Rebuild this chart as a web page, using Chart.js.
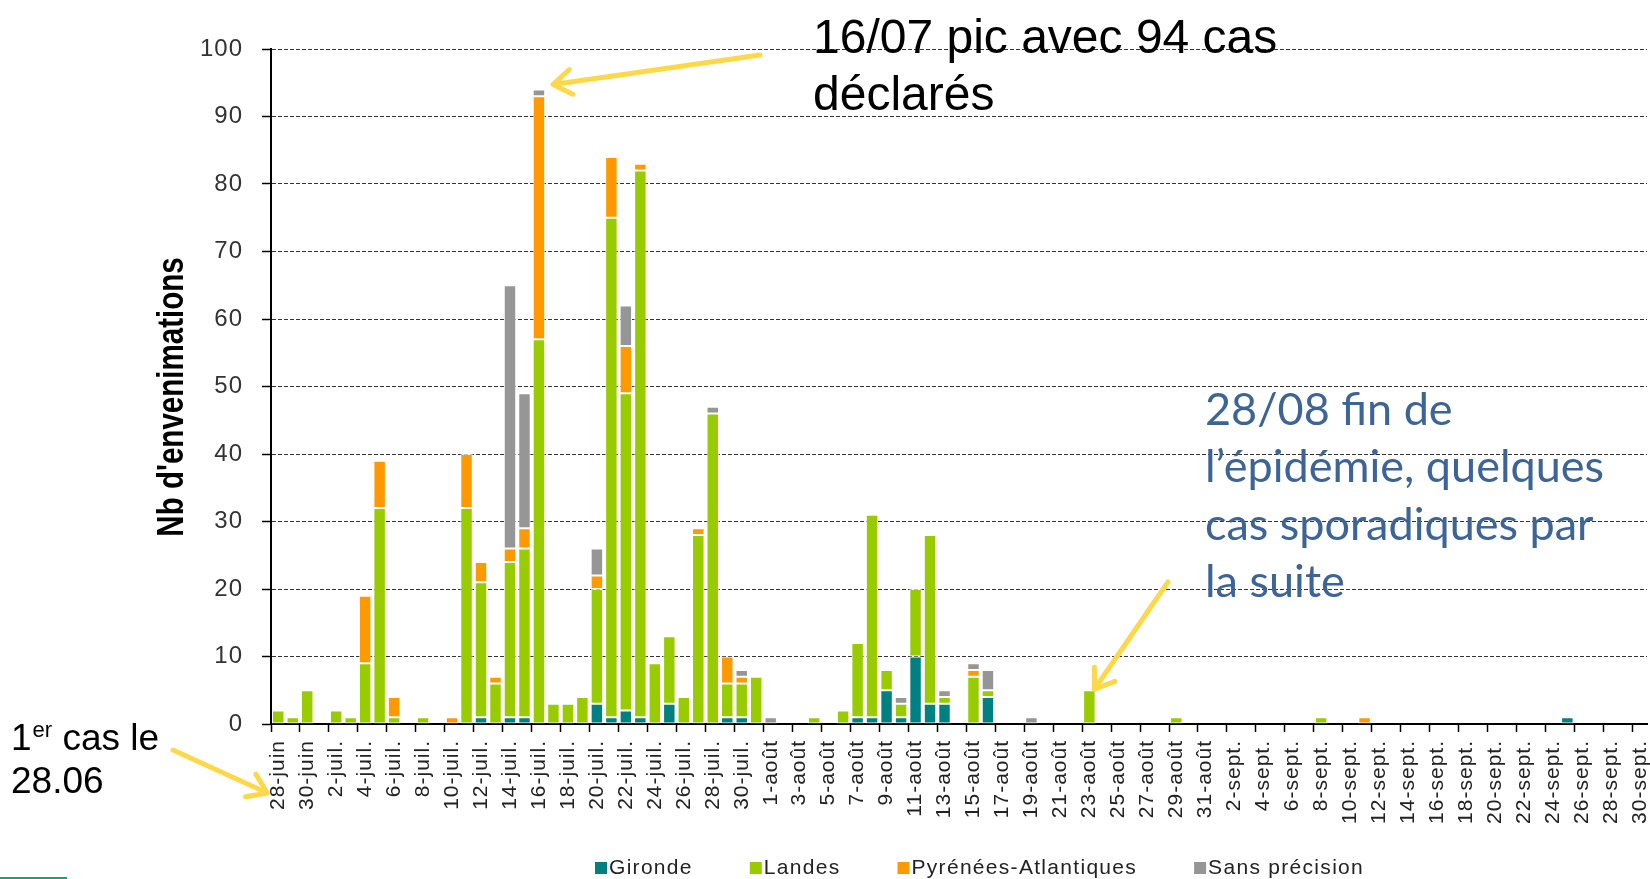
<!DOCTYPE html>
<html lang="fr">
<head>
<meta charset="utf-8">
<title>Envenimations</title>
<script src="https://cdn.jsdelivr.net/npm/chart.js@4.4.1/dist/chart.umd.min.js"></script>
<style>
    html, body { margin: 0; padding: 0; background: #fff; }
    canvas { display: block; }
</style>
</head>
<body>
<canvas id="myChart" width="1650" height="879"></canvas>
<script>
// Jours affichés : du 28 juin au 30 septembre
const mois = [
    { nom: 'juin', debut: 28, fin: 30 },
    { nom: 'juil.', debut: 1, fin: 31 },
    { nom: 'août', debut: 1, fin: 31 },
    { nom: 'sept.', debut: 1, fin: 30 }
];
let jours = [];
for (const m of mois) {
    for (let d = m.debut; d <= m.fin; d++) {
        jours.push(d + '-' + m.nom);
    }
}

// Nombre d'envenimations par jour et par département
const gironde = [
    0, 0, 0,
    0, 0, 0, 0, 0, 0, 0, 0, 0, 0,  0, 1, 0, 1, 1, 0, 0, 0, 0, 3,  1, 2, 1, 0, 3, 0, 0, 0, 1, 1,  0,
    0, 0, 0, 0, 0, 0, 1, 1, 5, 1,  10, 3, 3, 0, 0, 4, 0, 0, 0, 0,  0, 0, 0, 0, 0, 0, 0, 0, 0, 0,  0,
    0, 0, 0, 0, 0, 0, 0, 0, 0, 0,  0, 0, 0, 0, 0, 0, 0, 0, 0, 0,  0, 0, 0, 0, 1, 0, 0, 0, 0, 0
];
const landes = [
    2, 1, 5,
    0, 2, 1, 9, 32, 1, 0, 1, 0, 0,  32, 20, 6, 23, 25, 57, 3, 3, 4, 17,  74, 47, 81, 9, 10, 4, 28, 46, 5, 5,  7,
    0, 0, 0, 1, 0, 2, 11, 30, 3, 2,  10, 25, 1, 0, 7, 1, 0, 0, 0, 0,  0, 0, 5, 0, 0, 0, 0, 0, 1, 0,  0,
    0, 0, 0, 0, 0, 0, 0, 1, 0, 0,  0, 0, 0, 0, 0, 0, 0, 0, 0, 0,  0, 0, 0, 0, 0, 0, 0, 0, 0, 0
];
const pyrenees = [
    0, 0, 0,
    0, 0, 0, 10, 7, 3, 0, 0, 0, 1,  8, 3, 1, 2, 3, 36, 0, 0, 0, 2,  9, 7, 1, 0, 0, 0, 1, 0, 4, 1,  0,
    0, 0, 0, 0, 0, 0, 0, 0, 0, 0,  0, 0, 0, 0, 1, 0, 0, 0, 0, 0,  0, 0, 0, 0, 0, 0, 0, 0, 0, 0,  0,
    0, 0, 0, 0, 0, 0, 0, 0, 0, 0,  1, 0, 0, 0, 0, 0, 0, 0, 0, 0,  0, 0, 0, 0, 0, 0, 0, 0, 0, 0
];
const sansPrecision = [
    0, 0, 0,
    0, 0, 0, 0, 0, 0, 0, 0, 0, 0,  0, 0, 0, 39, 20, 1, 0, 0, 0, 4,  0, 6, 0, 0, 0, 0, 0, 1, 0, 1,  0,
    1, 0, 0, 0, 0, 0, 0, 0, 0, 1,  0, 0, 1, 0, 1, 3, 0, 0, 1, 0,  0, 0, 0, 0, 0, 0, 0, 0, 0, 0,  0,
    0, 0, 0, 0, 0, 0, 0, 0, 0, 0,  0, 0, 0, 0, 0, 0, 0, 0, 0, 0,  0, 0, 0, 0, 0, 0, 0, 0, 0, 0
];

const jourPic = 18;      // 16-juil.
const casPic = 94;
const jourFin = 56;      // 23-août
const casFin = 5;

function fleche(ctx, x1, y1, x2, y2) {
    const angle = Math.atan2(y2 - y1, x2 - x1);
    const tete = 22;
    ctx.save();
    ctx.strokeStyle = '#FFD84A';
    ctx.lineWidth = 5;
    ctx.lineCap = 'round';
    ctx.lineJoin = 'round';
    ctx.beginPath();
    ctx.moveTo(x1, y1);
    ctx.lineTo(x2, y2);
    ctx.moveTo(x2 - tete * Math.cos(angle - 0.6), y2 - tete * Math.sin(angle - 0.6));
    ctx.lineTo(x2, y2);
    ctx.lineTo(x2 - tete * Math.cos(angle + 0.6), y2 - tete * Math.sin(angle + 0.6));
    ctx.stroke();
    ctx.restore();
}

// espacement des lettres façon Excel
const espacement = {
    id: 'espacement',
    beforeDraw(chart) { chart.ctx.letterSpacing = '1px'; },
    afterDraw(chart) { chart.ctx.letterSpacing = '0px'; }
};

// titre de l'axe, textes, flèches et légende de la diapo
const annotations = {
    id: 'annotations',
    afterDraw(chart) {
        const ctx = chart.ctx;
        const x = chart.scales.x;
        const y = chart.scales.y;
        ctx.save();
        ctx.letterSpacing = '0px';
        ctx.textBaseline = 'alphabetic';
        ctx.textAlign = 'left';

        // titre de l'axe vertical (gras étroit)
        ctx.save();
        ctx.translate(183, 397);
        ctx.rotate(-Math.PI / 2);
        ctx.scale(0.82, 1);
        ctx.textAlign = 'center';
        ctx.fillStyle = '#000';
        ctx.font = 'bold 36px "Liberation Sans", Arial, sans-serif';
        ctx.fillText("Nb d'envenimations", 0, 0);
        ctx.restore();

        // pic du 16/07
        ctx.fillStyle = '#000';
        ctx.font = '48px "Liberation Sans", Arial, sans-serif';
        ctx.fillText('16/07 pic avec 94 cas', 813, 53);
        ctx.fillText('déclarés', 813, 110);
        fleche(ctx, 760, 55, x.getPixelForValue(jourPic) + 14, y.getPixelForValue(casPic) - 5);

        // fin de l'épidémie
        ctx.fillStyle = '#3C6496';
        ctx.font = '45px Lato, "Open Sans", sans-serif';
        const lignes = ['28/08 fin de', 'l’épidémie, quelques', 'cas sporadiques par', 'la suite'];
        lignes.forEach((t, i) => ctx.fillText(t, 1205, 425 + i * 57.3));
        fleche(ctx, 1168, 582, x.getPixelForValue(jourFin) + 5, y.getPixelForValue(casFin) - 1);

        // premier cas
        ctx.fillStyle = '#000';
        ctx.font = '37px "Liberation Sans", Arial, sans-serif';
        ctx.fillText('1', 11, 750);
        let px = 11 + ctx.measureText('1').width;
        ctx.font = '22px "Liberation Sans", Arial, sans-serif';
        ctx.fillText('er', px + 1, 737);
        px += ctx.measureText('er').width + 1;
        ctx.font = '37px "Liberation Sans", Arial, sans-serif';
        ctx.fillText(' cas le', px, 750);
        ctx.fillText('28.06', 11, 793);
        fleche(ctx, 173, 750, x.getPixelForValue(0) - 11, 793);

        // légende
        ctx.font = '21px "Liberation Sans", Arial, sans-serif';
        ctx.letterSpacing = '1.3px';
        ctx.textBaseline = 'middle';
        let lx = 595;
        chart.data.datasets.forEach(ds => {
            ctx.fillStyle = ds.backgroundColor;
            ctx.fillRect(lx, 862, 12, 12);
            ctx.fillStyle = '#222';
            ctx.fillText(ds.label, lx + 14, 868);
            lx += 14 + ctx.measureText(ds.label).width + 57;
        });

        // petit trait vert en bas à gauche
        ctx.fillStyle = '#1BA371';
        ctx.fillRect(0, 877, 67, 2);
        ctx.restore();
    }
};

const commun = {
    borderColor: 'rgba(255, 255, 255, 0.7)',
    borderWidth: c => (c.raw ? 1 : 0),
    borderSkipped: false,
    barPercentage: 0.86,
    categoryPercentage: 1
};

const ctx = document.getElementById('myChart');

new Chart(ctx, {
    type: 'bar',
    data: {
        labels: jours,
        datasets: [
            { label: 'Gironde', data: gironde, backgroundColor: '#008080', ...commun },
            { label: 'Landes', data: landes, backgroundColor: '#99CC00', ...commun },
            { label: 'Pyrénées-Atlantiques', data: pyrenees, backgroundColor: '#FF9900', ...commun },
            { label: 'Sans précision', data: sansPrecision, backgroundColor: '#969696', ...commun }
        ]
    },
    options: {
        responsive: false,
        animation: false,
        devicePixelRatio: 1,
        layout: { padding: { top: 49, right: 3, bottom: 0, left: 0 } },
        plugins: {
            legend: { display: false },
            tooltip: { enabled: false }
        },
        scales: {
            x: {
                stacked: true,
                offset: true,
                grid: {
                    offset: true,
                    drawOnChartArea: false,
                    drawTicks: true,
                    tickLength: 8,
                    tickWidth: 1.5,
                    tickColor: c => (c.index !== undefined && c.index % 2 === 0 ? '#000' : 'rgba(0,0,0,0)')
                },
                border: { color: '#000', width: 2 },
                ticks: {
                    autoSkip: false,
                    minRotation: 90,
                    maxRotation: 90,
                    padding: 8,
                    color: '#222',
                    font: { family: '"Liberation Sans", Arial, sans-serif', size: 21 },
                    callback: (v, i) => (i % 2 === 0 ? jours[i] : '')
                },
                afterFit: s => {
                    s.height = 155;
                    s.paddingLeft = 0;
                    s.paddingRight = 0;
                }
            },
            y: {
                stacked: true,
                min: 0,
                max: 100,
                ticks: {
                    stepSize: 10,
                    padding: 19,
                    color: '#333',
                    font: { family: '"Liberation Sans", Arial, sans-serif', size: 24 }
                },
                grid: {
                    color: '#333',
                    lineWidth: 1,
                    tickColor: '#000',
                    tickWidth: 1.5,
                    tickLength: 9,
                    tickBorderDash: []
                },
                border: { color: '#000', width: 2, dash: [4, 2] },
                afterFit: s => { s.width = 271; }
            }
        }
    },
    plugins: [espacement, annotations]
});
</script>
</body>
</html>
